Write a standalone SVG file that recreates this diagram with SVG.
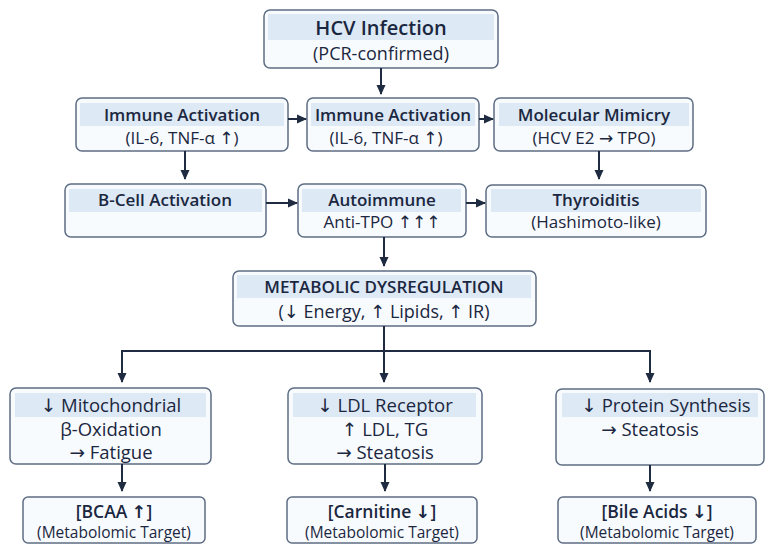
<svg xmlns="http://www.w3.org/2000/svg" width="779" height="557" viewBox="0 0 779 557">
<defs>
<marker id="ah" markerWidth="10" markerHeight="10" refX="9" refY="5" orient="auto" markerUnits="userSpaceOnUse">
<path d="M0,0.5 L10,5 L0,9.5 Z" fill="#1e2b40"/>
</marker>
<style>
.box{fill:#f8fbfe;stroke:#5d6d83;stroke-width:1.5}
.hd{fill:#dde9f5}
.t{font-family:"Open Sans","DejaVu Sans","Liberation Sans",sans-serif;fill:#1b2740;text-anchor:middle}
.b{font-weight:600}
.r4{font-size:18.5px}
.c{stroke:#1e2b40;stroke-width:2;fill:none}
</style>
</defs>
<rect width="779" height="557" fill="#ffffff"/>
<g id="hcv">
<rect class="box" x="264" y="10" width="234" height="58" rx="6"/>
<rect class="hd" x="268" y="14" width="226" height="26"/>
<text class="t b" x="381" y="35" font-size="20">HCV Infection</text>
<text class="t" x="381" y="59.5" font-size="18">(PCR-confirmed)</text>
</g>
<g id="immune1">
<rect class="box" x="76" y="98" width="212" height="53" rx="6"/>
<rect class="hd" x="80" y="103" width="204" height="23"/>
<text class="t b" x="182" y="121" font-size="17">Immune Activation</text>
<text class="t" x="182" y="144" font-size="17">(IL-6, TNF-α ↑)</text>
</g>
<g id="immune2">
<rect class="box" x="307" y="98" width="172" height="53" rx="6"/>
<rect class="hd" x="311" y="103" width="164" height="23"/>
<text class="t b" x="393" y="121" font-size="17">Immune Activation</text>
<text class="t" x="386" y="144" font-size="17">(IL-6, TNF-α ↑)</text>
</g>
<g id="mimicry">
<rect class="box" x="494" y="98" width="199" height="53" rx="6"/>
<rect class="hd" x="499" y="103" width="190" height="23"/>
<text class="t b" x="594" y="121" font-size="17">Molecular Mimicry</text>
<text class="t" x="594" y="144" font-size="17">(HCV E2 → TPO)</text>
</g>
<g id="bcell">
<rect class="box" x="65" y="184" width="201" height="53" rx="6"/>
<rect class="hd" x="69" y="189" width="193" height="23"/>
<text class="t b" x="165" y="206" font-size="17">B-Cell Activation</text>
</g>
<g id="autoimmune">
<rect class="box" x="298" y="184" width="168" height="53" rx="6"/>
<rect class="hd" x="302" y="189" width="159" height="23"/>
<text class="t b" x="382" y="206" font-size="17">Autoimmune</text>
<text class="t" x="382" y="228" font-size="17">Anti-TPO ↑↑↑</text>
</g>
<g id="thyroiditis">
<rect class="box" x="486" y="185" width="220" height="52" rx="6"/>
<rect class="hd" x="491" y="189" width="210" height="23"/>
<text class="t b" x="596" y="206" font-size="17">Thyroiditis</text>
<text class="t" x="596" y="228" font-size="17">(Hashimoto-like)</text>
</g>
<g id="metabolic">
<rect class="box" x="233" y="271" width="303" height="55" rx="6"/>
<rect class="hd" x="237" y="275" width="294" height="23"/>
<text class="t b" x="384" y="293" font-size="17">METABOLIC DYSREGULATION</text>
<text class="t" x="384" y="318" font-size="18">(↓ Energy, ↑ Lipids, ↑ IR)</text>
</g>
<g id="mito">
<rect class="box" x="10" y="388" width="201" height="76" rx="6"/>
<rect class="hd" x="15" y="393" width="191" height="24"/>
<text class="t r4" x="111" y="412" font-weight="500">↓ Mitochondrial</text>
<text class="t r4" x="111" y="435.5">β-Oxidation</text>
<text class="t r4" x="111" y="459">→ Fatigue</text>
</g>
<g id="ldl">
<rect class="box" x="288" y="388" width="194" height="76" rx="6"/>
<rect class="hd" x="293" y="393" width="183" height="24"/>
<text class="t r4" x="385" y="412" font-weight="500">↓ LDL Receptor</text>
<text class="t r4" x="385" y="435.5">↑ LDL, TG</text>
<text class="t r4" x="385" y="459">→ Steatosis</text>
</g>
<g id="protein">
<rect class="box" x="556" y="389" width="208" height="76" rx="6"/>
<rect class="hd" x="562" y="393" width="196" height="24"/>
<text class="t r4" x="666" y="412" font-weight="500">↓ Protein Synthesis</text>
<text class="t r4" x="650" y="435.5">→ Steatosis</text>
</g>
<g id="bcaa">
<rect class="box" x="23" y="497" width="182" height="46" rx="5"/>
<text class="t b" x="114" y="517.5" font-size="17.5">[BCAA ↑]</text>
<text class="t" x="114" y="538" font-size="15.5">(Metabolomic Target)</text>
</g>
<g id="carnitine">
<rect class="box" x="287" y="497" width="190" height="46" rx="5"/>
<text class="t b" x="382" y="517.5" font-size="17.5">[Carnitine ↓]</text>
<text class="t" x="382" y="538" font-size="15.5">(Metabolomic Target)</text>
</g>
<g id="bile">
<rect class="box" x="558" y="497" width="198" height="46" rx="5"/>
<text class="t b" x="657" y="517.5" font-size="17.5">[Bile Acids ↓]</text>
<text class="t" x="657" y="538" font-size="15.5">(Metabolomic Target)</text>
</g>
<g id="connectors">
<line class="c" x1="381" y1="68" x2="381" y2="94" marker-end="url(#ah)"/>
<line class="c" x1="288" y1="119" x2="306" y2="119" marker-end="url(#ah)"/>
<line class="c" x1="479" y1="119" x2="493" y2="119" marker-end="url(#ah)"/>
<line class="c" x1="185" y1="151" x2="185" y2="179" marker-end="url(#ah)"/>
<line class="c" x1="599" y1="151" x2="599" y2="179" marker-end="url(#ah)"/>
<line class="c" x1="266" y1="203" x2="297" y2="203" marker-end="url(#ah)"/>
<line class="c" x1="466" y1="203" x2="485" y2="203" marker-end="url(#ah)"/>
<line class="c" x1="384" y1="237" x2="384" y2="266" marker-end="url(#ah)"/>
<line class="c" x1="384" y1="326" x2="384" y2="351"/>
<line class="c" x1="122" y1="351" x2="650" y2="351"/>
<line class="c" x1="122" y1="350" x2="122" y2="382" marker-end="url(#ah)"/>
<line class="c" x1="384" y1="351" x2="384" y2="382" marker-end="url(#ah)"/>
<line class="c" x1="650" y1="350" x2="650" y2="382" marker-end="url(#ah)"/>
<line class="c" x1="122" y1="464" x2="122" y2="491" marker-end="url(#ah)"/>
<line class="c" x1="385" y1="464" x2="385" y2="491" marker-end="url(#ah)"/>
<line class="c" x1="650" y1="465" x2="650" y2="491" marker-end="url(#ah)"/>
</g>
</svg>
